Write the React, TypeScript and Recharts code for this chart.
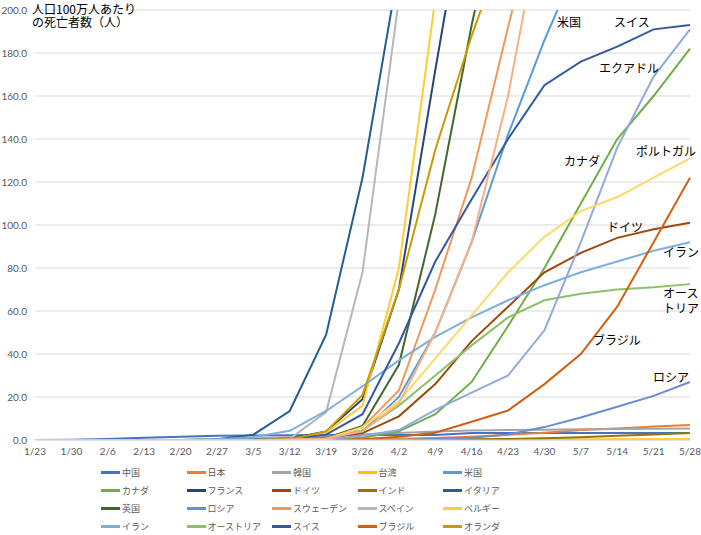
import { LineChart, Line, XAxis, YAxis, CartesianGrid } from "recharts";

const dates = ["1/23", "1/30", "2/6", "2/13", "2/20", "2/27", "3/5", "3/12", "3/19", "3/26", "4/2", "4/9", "4/16", "4/23", "4/30", "5/7", "5/14", "5/21", "5/28"];
const yTicks = [0, 20, 40, 60, 80, 100, 120, 140, 160, 180, 200];

// 人口100万人あたりの死亡者数
const china = [0.01, 0.12, 0.45, 1.0, 1.5, 1.95, 2.1, 2.2, 2.3, 2.3, 2.3, 2.3, 3.2, 3.2, 3.2, 3.2, 3.2, 3.2, 3.2];
const japan = [0, 0, 0, 0, 0, 0.01, 0.05, 0.1, 0.2, 0.4, 0.6, 0.9, 1.5, 2.4, 3.4, 4.7, 5.4, 6.3, 7.0];
const korea = [0, 0, 0, 0, 0, 0.2, 0.7, 1.3, 1.8, 2.7, 3.3, 4.0, 4.4, 4.7, 4.8, 5.0, 5.1, 5.2, 5.3];
const taiwan = [0, 0, 0, 0, 0.04, 0.04, 0.04, 0.04, 0.04, 0.1, 0.2, 0.25, 0.25, 0.25, 0.25, 0.25, 0.3, 0.3, 0.3];
const usa = [0, 0, 0, 0, 0, 0, 0.03, 0.1, 0.5, 4, 20, 50, 92, 142, 186, 225, 255, 285, 310];
const canada = [0, 0, 0, 0, 0, 0, 0, 0.03, 0.3, 1.0, 4, 12, 27, 53, 80, 110, 140, 160, 182];
const france = [0, 0, 0, 0.02, 0.02, 0.03, 0.1, 0.7, 4, 19, 70, 172, 270, 330, 370, 390, 405, 415, 425];
const germany = [0, 0, 0, 0, 0, 0, 0, 0.05, 0.8, 3.2, 11, 26, 46, 62, 78, 87, 94, 98, 101];
const india = [0, 0, 0, 0, 0, 0, 0, 0, 0, 0.01, 0.04, 0.15, 0.3, 0.5, 0.8, 1.3, 2.0, 2.6, 3.3];
const italy = [0, 0, 0, 0, 0, 0.3, 2.5, 13.5, 49, 122, 220, 300, 370, 420, 460, 490, 510, 530, 550];
const uk = [0, 0, 0, 0, 0, 0, 0.03, 0.2, 1.0, 6.5, 35, 105, 193, 270, 390, 460, 500, 530, 560];
const russia = [0, 0, 0, 0, 0, 0, 0, 0, 0, 0.02, 0.1, 0.5, 1.1, 2.5, 6, 10.5, 15.5, 20.5, 27];
const sweden = [0, 0, 0, 0, 0, 0, 0, 0.1, 0.7, 6, 23, 70, 122, 192, 260, 300, 355, 390, 420];
const spain = [0, 0, 0, 0, 0, 0, 0.02, 0.5, 13, 78, 205, 330, 410, 470, 530, 560, 585, 600, 620];
const belgium = [0, 0, 0, 0, 0, 0, 0, 0.3, 3.5, 16, 80, 205, 430, 560, 650, 700, 770, 790, 810];
const iran = [0, 0, 0, 0, 0, 0.3, 1.3, 4.3, 13.5, 25, 37, 48, 57, 65, 72, 78, 83, 88, 92];
const austria = [0, 0, 0, 0, 0, 0, 0, 0.1, 0.6, 4.5, 16, 30, 44, 57, 65, 68, 70, 71, 72.5];
const swiss = [0, 0, 0, 0, 0, 0, 0.1, 0.5, 2.5, 12, 45, 83, 112, 140, 165, 176, 183, 191, 193];
const brazil = [0, 0, 0, 0, 0, 0, 0, 0, 0.02, 0.3, 1.5, 3.4, 8.5, 13.7, 26, 40, 62, 92, 122];
const netherlands = [0, 0, 0, 0, 0, 0, 0, 0.3, 4, 21, 70, 135, 188, 235, 280, 300, 320, 330, 340];
// 凡例に無い系列
const ecuador = [0, 0, 0, 0, 0, 0, 0, 0, 0.2, 2, 4.6, 14, 22, 30, 51, 92, 136, 169, 191];
const portugal = [0, 0, 0, 0, 0, 0, 0, 0, 0.3, 6, 18, 38, 58, 78, 94.5, 106.5, 113, 122, 131];
const ireland = [0, 0, 0, 0, 0, 0, 0, 0.2, 0.7, 4, 17, 50, 92, 160, 250, 300, 320, 335, 340];

const series = [
    { name: "中国", values: china, color: "#4472C4", legend: true },
    { name: "日本", values: japan, color: "#ED7D31", legend: true },
    { name: "韓国", values: korea, color: "#A5A5A5", legend: true },
    { name: "台湾", values: taiwan, color: "#FFC000", legend: true },
    { name: "米国", values: usa, color: "#5B9BD5", legend: true },
    { name: "カナダ", values: canada, color: "#70AD47", legend: true },
    { name: "フランス", values: france, color: "#264478", legend: true },
    { name: "ドイツ", values: germany, color: "#9E480E", legend: true },
    { name: "インド", values: india, color: "#997300", legend: true },
    { name: "イタリア", values: italy, color: "#255E91", legend: true },
    { name: "英国", values: uk, color: "#43682B", legend: true },
    { name: "ロシア", values: russia, color: "#698ED0", legend: true },
    { name: "スウェーデン", values: sweden, color: "#F1975A", legend: true },
    { name: "スペイン", values: spain, color: "#B7B7B7", legend: true },
    { name: "ベルギー", values: belgium, color: "#FFCD33", legend: true },
    { name: "イラン", values: iran, color: "#7CAFDD", legend: true },
    { name: "オーストリア", values: austria, color: "#8CC168", legend: true },
    { name: "スイス", values: swiss, color: "#335AA1", legend: true },
    { name: "ブラジル", values: brazil, color: "#D26012", legend: true },
    { name: "オランダ", values: netherlands, color: "#CC9A00", legend: true },
    { name: "エクアドル", values: ecuador, color: "#8FAADC", legend: false },
    { name: "ポルトガル", values: portugal, color: "#FFD966", legend: false },
    { name: "アイルランド", values: ireland, color: "#F4B183", legend: false },
];

const data = dates.map((d, i) => {
    const row: Record<string, string | number> = { date: d };
    series.forEach((s) => (row[s.name] = s.values[i]));
    return row;
});

const jp = '"Noto Sans CJK JP", sans-serif';
const num = '"Liberation Sans Narrow", Lato, sans-serif';

// chart annotations
const notes = [
    { text: "米国", left: 557, top: 14 },
    { text: "スイス", left: 614, top: 14 },
    { text: "エクアドル", left: 599, top: 60 },
    { text: "カナダ", left: 564, top: 153 },
    { text: "ポルトガル", left: 636, top: 143 },
    { text: "ドイツ", left: 607, top: 219 },
    { text: "イラン", left: 663, top: 244 },
    { text: "オース\nトリア", left: 663, top: 285 },
    { text: "ブラジル", left: 593, top: 332 },
    { text: "ロシア", left: 653, top: 369 },
];

function ChartLegend() {
    const items = series.filter((s) => s.legend);
    return (
        <div style={{ position: "absolute", left: 101, top: 463, width: 430 }}>
            {items.map((s, i) => (
                <div
                    key={s.name}
                    style={{
                        position: "absolute",
                        left: (i % 5) * 85.5,
                        top: Math.floor(i / 5) * 18,
                        display: "flex",
                        alignItems: "center",
                        height: 18,
                        whiteSpace: "nowrap",
                    }}
                >
                    <span style={{ display: "inline-block", width: 19, height: 3, background: s.color, marginRight: 2 }} />
                    <span style={{ fontFamily: jp, fontSize: 9, color: "#595959" }}>{s.name}</span>
                </div>
            ))}
        </div>
    );
}

export default function App() {
    return (
        <div style={{ position: "relative", width: 701, height: 535, background: "#fff" }}>
            <style>{`body{margin:0}`}</style>
            <LineChart width={701} height={462} data={data} margin={{ top: 10, right: 11, bottom: 0, left: 0 }}>
                <CartesianGrid vertical={false} stroke="#D9D9D9" />
                <XAxis
                    dataKey="date"
                    interval={0}
                    height={22}
                    tickLine={false}
                    axisLine={{ stroke: "#D9D9D9" }}
                    tick={{ fontSize: 10, fill: "#595959", fontFamily: num }}
                />
                <YAxis
                    width={35}
                    domain={[0, 200]}
                    ticks={yTicks}
                    allowDataOverflow
                    tickLine={false}
                    axisLine={false}
                    tickFormatter={(v: number) => v.toFixed(1)}
                    tick={{ fontSize: 10, fill: "#595959", fontFamily: num }}
                />
                {series.map((s) => (
                    <Line
                        key={s.name}
                        type="linear"
                        dataKey={s.name}
                        stroke={s.color}
                        strokeWidth={2}
                        dot={false}
                        isAnimationActive={false}
                    />
                ))}
            </LineChart>
            <div style={{ position: "absolute", left: 32, top: 2, fontFamily: jp, fontSize: 12, lineHeight: "13px", color: "#000", whiteSpace: "pre" }}>
                {"人口100万人あたり\nの死亡者数（人）"}
            </div>
            {notes.map((n) => (
                <div
                    key={n.text}
                    style={{ position: "absolute", left: n.left, top: n.top, fontFamily: jp, fontSize: 12, lineHeight: "15px", color: "#000", whiteSpace: "pre" }}
                >
                    {n.text}
                </div>
            ))}
            <ChartLegend />
        </div>
    );
}
